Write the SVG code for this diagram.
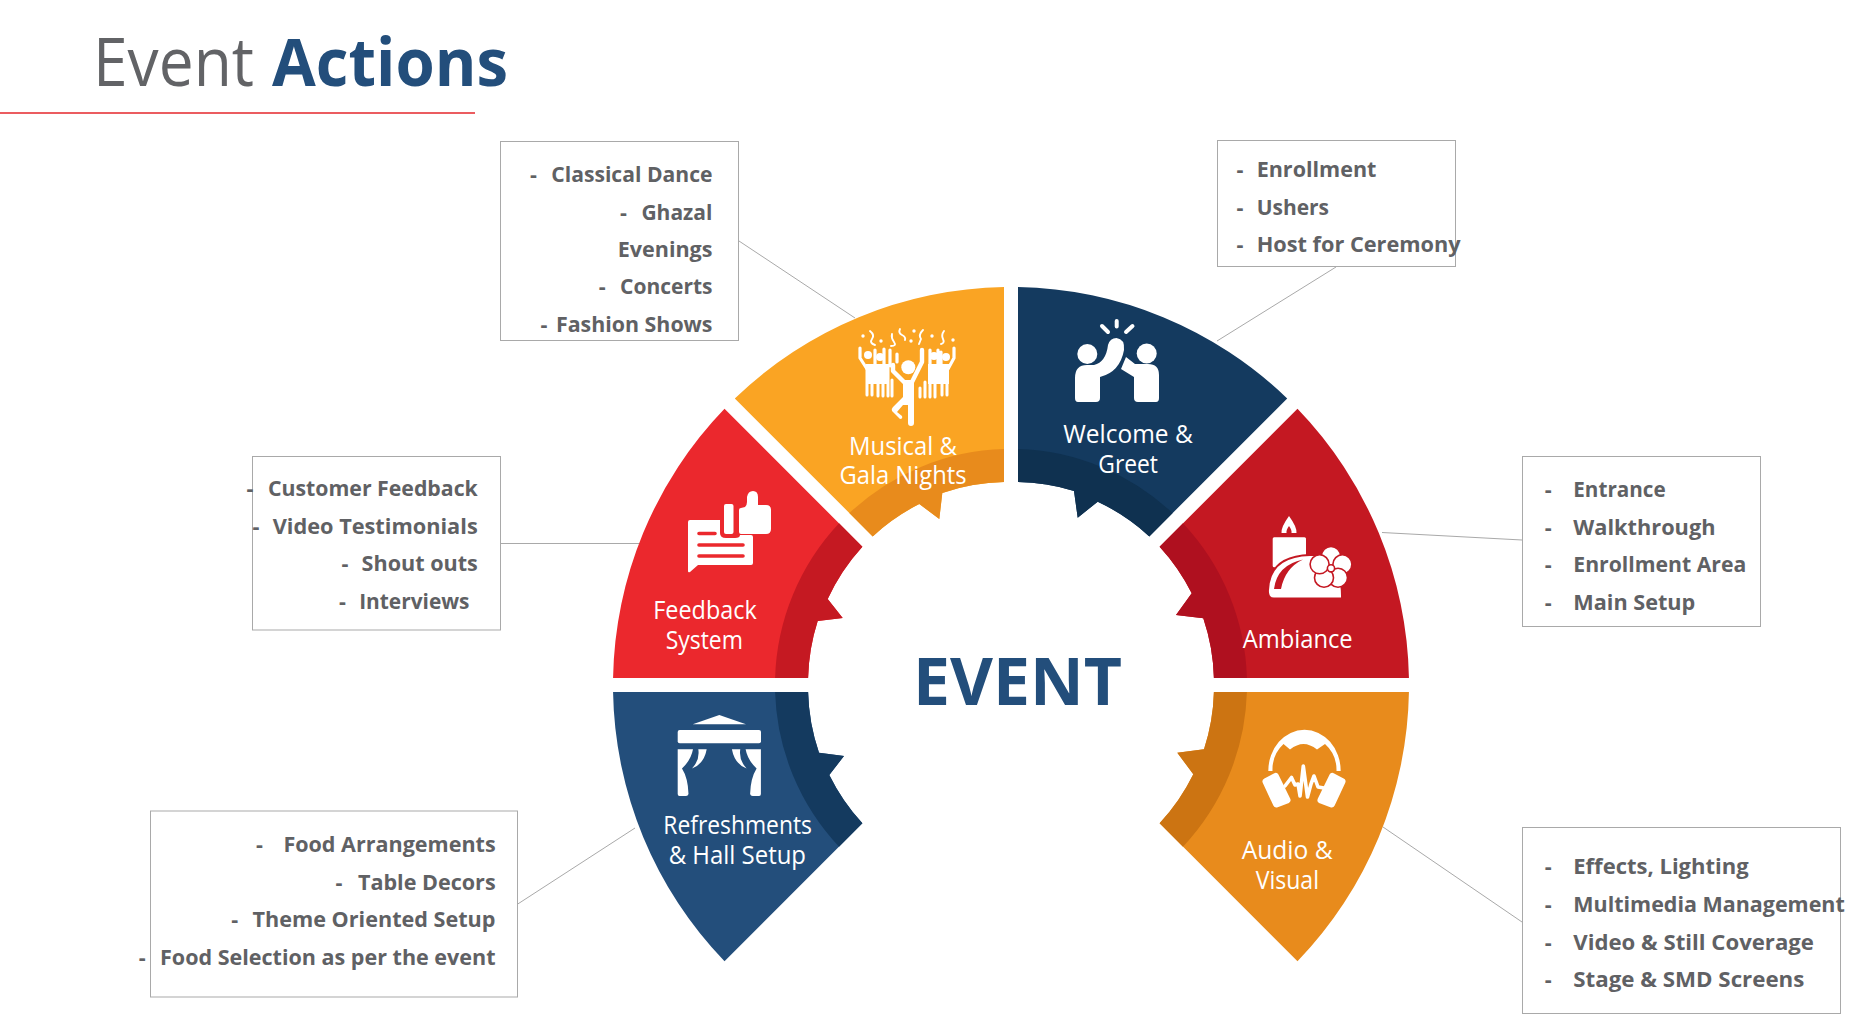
<svg xmlns="http://www.w3.org/2000/svg" width="1859" height="1015" viewBox="0 0 1859 1015">
  <style>
    text { font-family: "Open Sans", "Noto Sans", "Liberation Sans", sans-serif; }
    .title { font-size: 67px; }
    .title-a { font-weight: 400; fill: #626366; }
    .title-b { font-weight: 700; fill: #234E7B; }
    .hub { font-size: 67px; font-weight: 700; fill: #234E7B; }
    .label { font-size: 25.5px; font-weight: 400; fill: #fff; }
    .item { font-size: 21.5px; font-weight: 700; fill: #606164; }
    .box { fill: #fff; stroke: #A9A9A9; stroke-width: 1; }
    .leader { fill: none; stroke: #A9A9A9; stroke-width: 1; }
    .ico { fill: #fff; }
    .ln { fill: none; stroke: #fff; stroke-linecap: round; stroke-linejoin: round; }
  </style>

  <rect width="1859" height="1015" fill="#fff"/>

  <g id="heading">
    <text class="title" y="85.5"><tspan class="title-a" x="93" textLength="161" lengthAdjust="spacingAndGlyphs">Event</tspan><tspan class="title-b" x="272" textLength="236" lengthAdjust="spacingAndGlyphs">Actions</tspan></text>
    <line x1="0" y1="113" x2="475" y2="113" stroke="#E4262B" stroke-width="1.6"/>
  </g>

  <g id="connectors">
    <line class="leader" x1="739" y1="241" x2="855" y2="318"/>
    <line class="leader" x1="1336" y1="267" x2="1217" y2="341"/>
    <line class="leader" x1="500" y1="543.5" x2="640" y2="543.5"/>
    <line class="leader" x1="1522" y1="540" x2="1382" y2="532.5"/>
    <line class="leader" x1="517" y1="904.5" x2="635" y2="828"/>
    <line class="leader" x1="1522" y1="922" x2="1383" y2="827"/>
  </g>

  <g id="node-musical">
    <path fill="#FAA423" d="M1004 287.1A398 398 0 0 0 734.8 398.5L872.7 536.4A203 203 0 0 1 919.3 504L939.3 519L942.3 493A203 203 0 0 1 1004 482.1Z"/>
    <path fill="#E88B1C" d="M1004 449.1A236 236 0 0 0 849.35 513.05L872.7 536.4A203 203 0 0 1 919.3 504L939.3 519L942.3 493A203 203 0 0 1 1004 482.1Z"/>
    <g class="ico">
      <circle cx="908.3" cy="367.3" r="7"/>
      <path class="ln" stroke-width="4.4" d="M893 365V371L906 384M922 350V362L911 384"/>
      <path d="M903 380H914V423Q914 426 911 426T908 423V405H903L897 412L902 416Q903 419 900 419L892 411Q891 409 893 407L903 397Z"/>
      <path class="ln" stroke-width="3.2" d="M860 348V358L867 369M875 350V368M884 349V368M890 350V366M897 354V362M938 350V366M941 352V368M930 350V368M954 348V358L948 369"/>
      <path class="ln" stroke-width="3" d="M867 368V395M872 366V395M878 366V396M883 366V396M888 368V396M892 380V396M920 388V397M925 382V397M930 366V397M935 366V397M942 366V395M947 368V395"/>
      <path d="M866 364H889V384H866ZM928 364H949V384H928Z"/>
      <circle cx="868" cy="355" r="4"/>
      <circle cx="946" cy="357" r="4"/>
      <circle cx="880" cy="357" r="4"/>
      <circle cx="934" cy="356" r="4"/>
      <circle cx="863" cy="336" r="1.7"/>
      <circle cx="881" cy="341" r="1.7"/>
      <circle cx="911" cy="341" r="1.7"/>
      <circle cx="914" cy="331" r="1.7"/>
      <circle cx="932" cy="336" r="1.7"/>
      <circle cx="953" cy="340" r="1.7"/>
      <path class="ln" stroke-width="1.9" d="M870 331Q875 335 872 339T875 345M892 334Q891 338 894 342T891 346M900 329Q898 333 902 335T905 340M923 330Q918 335 921 339L919 344M944 331Q941 335 943 339T941 344"/>
    </g>
    <text class="label" x="849" y="455" textLength="108" lengthAdjust="spacingAndGlyphs">Musical &amp;</text>
    <text class="label" x="839.5" y="484" textLength="127" lengthAdjust="spacingAndGlyphs">Gala Nights</text>
    <rect class="box" x="500.5" y="141.5" width="238" height="199"/>
    <text class="item"><tspan x="530" y="182.3">-</tspan><tspan x="551.3" y="182.3" textLength="161.2" lengthAdjust="spacingAndGlyphs">Classical Dance</tspan></text>
    <text class="item"><tspan x="620" y="219.6">-</tspan><tspan x="641.4" y="219.6" textLength="71" lengthAdjust="spacingAndGlyphs">Ghazal</tspan></text>
    <text class="item" x="617.7" y="256.5" textLength="94.8" lengthAdjust="spacingAndGlyphs">Evenings</text>
    <text class="item"><tspan x="598.7" y="294.4">-</tspan><tspan x="620" y="294.4" textLength="92.5" lengthAdjust="spacingAndGlyphs">Concerts</tspan></text>
    <text class="item"><tspan x="540.6" y="331.7">-</tspan><tspan x="556" y="331.7" textLength="156.5" lengthAdjust="spacingAndGlyphs">Fashion Shows</tspan></text>
  </g>

  <g id="node-welcome">
    <path fill="#143A5F" d="M1018 287.1A398 398 0 0 1 1287.2 398.5L1149.3 536.4A203 203 0 0 0 1097.7 501.7L1077.7 517.7L1074 491A203 203 0 0 0 1018 482.1Z"/>
    <path fill="#0F3150" d="M1018 449.1A236 236 0 0 1 1172.65 513.05L1149.3 536.4A203 203 0 0 0 1097.7 501.7L1077.7 517.7L1074 491A203 203 0 0 0 1018 482.1Z"/>
    <g class="ico">
      <circle cx="1087.3" cy="354" r="10"/>
      <circle cx="1146.7" cy="353.5" r="10"/>
      <path d="M1075 398V378Q1075 365 1087 365H1094Q1106 362 1108 345Q1110 338 1116.5 338Q1125 339 1124 350Q1120 372 1100 377V398Q1100 402 1096 402H1078Q1075 402 1075 398Z"/>
      <path d="M1159 398V375Q1159 364 1148 364H1135L1126 357L1121 369L1134 377V398Q1134 402 1138 402H1156Q1159 402 1159 398Z"/>
      <path class="ln" stroke-width="4" d="M1116.7 321V326.5M1102 326L1108 332M1132.5 326L1126 332"/>
    </g>
    <text class="label" x="1063.3" y="443" textLength="129.4" lengthAdjust="spacingAndGlyphs">Welcome &amp;</text>
    <text class="label" x="1098.3" y="473" textLength="59.7" lengthAdjust="spacingAndGlyphs">Greet</text>
    <rect class="box" x="1217.5" y="140.5" width="238" height="126"/>
    <text class="item"><tspan x="1236.6" y="177.3">-</tspan><tspan x="1256.7" y="177.3" textLength="119.7" lengthAdjust="spacingAndGlyphs">Enrollment</tspan></text>
    <text class="item"><tspan x="1236.6" y="214.6">-</tspan><tspan x="1256.7" y="214.6" textLength="72.3" lengthAdjust="spacingAndGlyphs">Ushers</tspan></text>
    <text class="item"><tspan x="1236.6" y="252">-</tspan><tspan x="1256.7" y="252" textLength="204" lengthAdjust="spacingAndGlyphs">Host for Ceremony</tspan></text>
  </g>

  <g id="node-ambiance">
    <path fill="#C41822" d="M1297.5 408.8A398 398 0 0 1 1408.94 678H1213.9A203 203 0 0 0 1203.3 618.3L1176 615L1191.7 593.3A203 203 0 0 0 1159.6 546.7Z"/>
    <path fill="#AF101F" d="M1182.95 523.35A236 236 0 0 1 1246.9 678H1213.9A203 203 0 0 0 1203.3 618.3L1176 615L1191.7 593.3A203 203 0 0 0 1159.6 546.7Z"/>
    <g class="ico">
      <path d="M1289 516Q1297 527 1296.5 533H1281.5Q1281 527 1289 516ZM1289 526Q1286 530 1286.5 533H1291.5Q1292 530 1289 526Z" fill-rule="evenodd"/>
      <rect x="1272.7" y="537.3" width="33.3" height="30" rx="1.5"/>
      <path d="M1274 598.5Q1268 598.5 1268 591Q1269 556 1310 555H1320Q1342 560 1342 598.5Z" stroke="#C41822" stroke-width="1.8"/>
      <path fill="#C41822" d="M1274 589Q1277 565 1303 559.5Q1285 568 1281 589Z"/>
      <g stroke="#C41822" stroke-width="1.6">
        <circle cx="1331" cy="556" r="9.5"/>
        <circle cx="1342.4" cy="564.3" r="9.5"/>
        <circle cx="1338" cy="577.7" r="9.5"/>
        <circle cx="1324" cy="577.7" r="9.5"/>
        <circle cx="1319.6" cy="564.3" r="9.5"/>
        <circle cx="1331" cy="568.3" r="3.6"/>
      </g>
    </g>
    <text class="label" x="1242.7" y="647.7" textLength="110" lengthAdjust="spacingAndGlyphs">Ambiance</text>
    <rect class="box" x="1522.5" y="456.5" width="238" height="170"/>
    <text class="item"><tspan x="1544.8" y="497.4">-</tspan><tspan x="1573.3" y="497.4" textLength="92.4" lengthAdjust="spacingAndGlyphs">Entrance</tspan></text>
    <text class="item"><tspan x="1544.8" y="535">-</tspan><tspan x="1573.3" y="535" textLength="142.2" lengthAdjust="spacingAndGlyphs">Walkthrough</tspan></text>
    <text class="item"><tspan x="1544.8" y="572.4">-</tspan><tspan x="1573.3" y="572.4" textLength="173" lengthAdjust="spacingAndGlyphs">Enrollment Area</tspan></text>
    <text class="item"><tspan x="1544.8" y="610">-</tspan><tspan x="1573.3" y="610" textLength="122" lengthAdjust="spacingAndGlyphs">Main Setup</tspan></text>
  </g>

  <g id="node-audio">
    <path fill="#E88B1C" d="M1408.94 692A398 398 0 0 1 1297.5 961.2L1159.6 823.3A203 203 0 0 0 1193.3 774.3L1177.3 752.7L1204 749.3A203 203 0 0 0 1213.9 692Z"/>
    <path fill="#CC7412" d="M1246.9 692A236 236 0 0 1 1182.95 846.65L1159.6 823.3A203 203 0 0 0 1193.3 774.3L1177.3 752.7L1204 749.3A203 203 0 0 0 1213.9 692Z"/>
    <g class="ico">
      <path d="M1268.3 771A36 41 0 0 1 1340.7 771H1336.5A32 34 0 0 0 1325 744L1317 749.5Q1310 744 1303.5 744T1290 749.5L1283.5 744A32 34 0 0 0 1272.5 771Z"/>
      <path stroke="#fff" stroke-width="7" stroke-linejoin="round" d="M1266 781.5L1275.5 776.5L1287 800L1276.5 804Z"/>
      <path stroke="#fff" stroke-width="7" stroke-linejoin="round" d="M1342 781.5L1332.5 776.5L1321 800L1331.5 804Z"/>
      <path class="ln" stroke-width="3.6" d="M1285 786L1291.5 777.5L1295 785L1298 784L1300 796L1303.3 766L1307.5 797L1311 784L1314 776L1318 787L1324 788"/>
    </g>
    <text class="label" x="1241.7" y="859.3" textLength="91" lengthAdjust="spacingAndGlyphs">Audio &amp;</text>
    <text class="label" x="1255.7" y="889.3" textLength="63.3" lengthAdjust="spacingAndGlyphs">Visual</text>
    <rect class="box" x="1522.5" y="827.5" width="318" height="186"/>
    <text class="item"><tspan x="1544.8" y="874.4">-</tspan><tspan x="1573.3" y="874.4" textLength="175.4" lengthAdjust="spacingAndGlyphs">Effects, Lighting</tspan></text>
    <text class="item"><tspan x="1544.8" y="912">-</tspan><tspan x="1573.3" y="912" textLength="271.5" lengthAdjust="spacingAndGlyphs">Multimedia Management</tspan></text>
    <text class="item"><tspan x="1544.8" y="949.7">-</tspan><tspan x="1573.3" y="949.7" textLength="240.6" lengthAdjust="spacingAndGlyphs">Video &amp; Still Coverage</tspan></text>
    <text class="item"><tspan x="1544.8" y="987">-</tspan><tspan x="1573.3" y="987" textLength="231" lengthAdjust="spacingAndGlyphs">Stage &amp; SMD Screens</tspan></text>
  </g>

  <g id="node-refreshments">
    <path fill="#234E7B" d="M613.06 692A398 398 0 0 0 724.5 961.2L862.4 823.3A203 203 0 0 1 829.3 775L844 756L819 752.7A203 203 0 0 1 808.1 692Z"/>
    <path fill="#143A5F" d="M775.1 692A236 236 0 0 0 839.05 846.65L862.4 823.3A203 203 0 0 1 829.3 775L844 756L819 752.7A203 203 0 0 1 808.1 692Z"/>
    <g class="ico">
      <path d="M692.7 724.3L719.3 715L746 724.3Z"/>
      <rect x="677.7" y="730" width="83.3" height="13.3" rx="2"/>
      <g>
        <path d="M677.7 749.3H693Q691 760 682 768.5Q688 778 688.5 794Q688 796 686 796H679.5Q677.7 796 677.7 794Z"/>
        <path d="M698.3 749.3H706.7Q704 764 692 768.5Q700 760 698.3 749.3Z"/>
      </g>
      <g transform="translate(1438.6 0) scale(-1 1)">
        <path d="M677.7 749.3H693Q691 760 682 768.5Q688 778 688.5 794Q688 796 686 796H679.5Q677.7 796 677.7 794Z"/>
        <path d="M698.3 749.3H706.7Q704 764 692 768.5Q700 760 698.3 749.3Z"/>
      </g>
    </g>
    <text class="label" x="663.3" y="834.3" textLength="148.7" lengthAdjust="spacingAndGlyphs">Refreshments</text>
    <text class="label" x="668.7" y="864.3" textLength="137.3" lengthAdjust="spacingAndGlyphs">&amp; Hall Setup</text>
    <rect class="box" x="150.5" y="811" width="367" height="186"/>
    <text class="item"><tspan x="256" y="852">-</tspan><tspan x="283.4" y="852" textLength="212.2" lengthAdjust="spacingAndGlyphs">Food Arrangements</tspan></text>
    <text class="item"><tspan x="335.5" y="890">-</tspan><tspan x="358" y="890" textLength="137.6" lengthAdjust="spacingAndGlyphs">Table Decors</tspan></text>
    <text class="item"><tspan x="231.2" y="927">-</tspan><tspan x="252.5" y="927" textLength="243" lengthAdjust="spacingAndGlyphs">Theme Oriented Setup</tspan></text>
    <text class="item"><tspan x="138.7" y="965">-</tspan><tspan x="160" y="965" textLength="335.5" lengthAdjust="spacingAndGlyphs">Food Selection as per the event</tspan></text>
  </g>

  <g id="node-feedback">
    <path fill="#EB282D" d="M724.5 408.8A398 398 0 0 0 613.06 678H808.1A203 203 0 0 1 817.7 621L842.7 618L827.7 599A203 203 0 0 1 862.4 546.7Z"/>
    <path fill="#C51922" d="M839.05 523.35A236 236 0 0 0 775.1 678H808.1A203 203 0 0 1 817.7 621L842.7 618L827.7 599A203 203 0 0 1 862.4 546.7Z"/>
    <g class="ico">
      <path d="M690 520H720V533Q720 538 726 538H735Q740 538 740 535H751Q753 535 753 537V563Q753 565 751 565H698L690 572Q688 573 688 571V522Q688 520 690 520Z"/>
      <rect x="724" y="504" width="9.5" height="30" rx="2"/>
      <path d="M741 508L745 507Q747 505 747 502V497Q748 491 753 491Q758 491 758 497V505H766Q771 505 771 510V529Q771 534 766 534H741Q739 534 739 532V510Q739 508 741 508Z"/>
      <path fill="none" stroke="#EB282D" stroke-width="3.6" stroke-linecap="round" d="M699 533.5H715M699 545H743M699 556H743"/>
    </g>
    <text class="label" x="653.3" y="619.3" textLength="103.4" lengthAdjust="spacingAndGlyphs">Feedback</text>
    <text class="label" x="665.7" y="649.3" textLength="77.3" lengthAdjust="spacingAndGlyphs">System</text>
    <rect class="box" x="252.5" y="456.5" width="248" height="173.5"/>
    <text class="item"><tspan x="246.6" y="496.2">-</tspan><tspan x="268" y="496.2" textLength="209.8" lengthAdjust="spacingAndGlyphs">Customer Feedback</tspan></text>
    <text class="item"><tspan x="252.5" y="533.5">-</tspan><tspan x="272.7" y="533.5" textLength="205" lengthAdjust="spacingAndGlyphs">Video Testimonials</tspan></text>
    <text class="item"><tspan x="341.4" y="571">-</tspan><tspan x="361.6" y="571" textLength="116.2" lengthAdjust="spacingAndGlyphs">Shout outs</tspan></text>
    <text class="item"><tspan x="339" y="608.5">-</tspan><tspan x="359.2" y="608.5" textLength="110.3" lengthAdjust="spacingAndGlyphs">Interviews</tspan></text>
  </g>

  <g id="node-hub">
    <text class="hub" x="913" y="705" textLength="209" lengthAdjust="spacingAndGlyphs">EVENT</text>
  </g>
</svg>
